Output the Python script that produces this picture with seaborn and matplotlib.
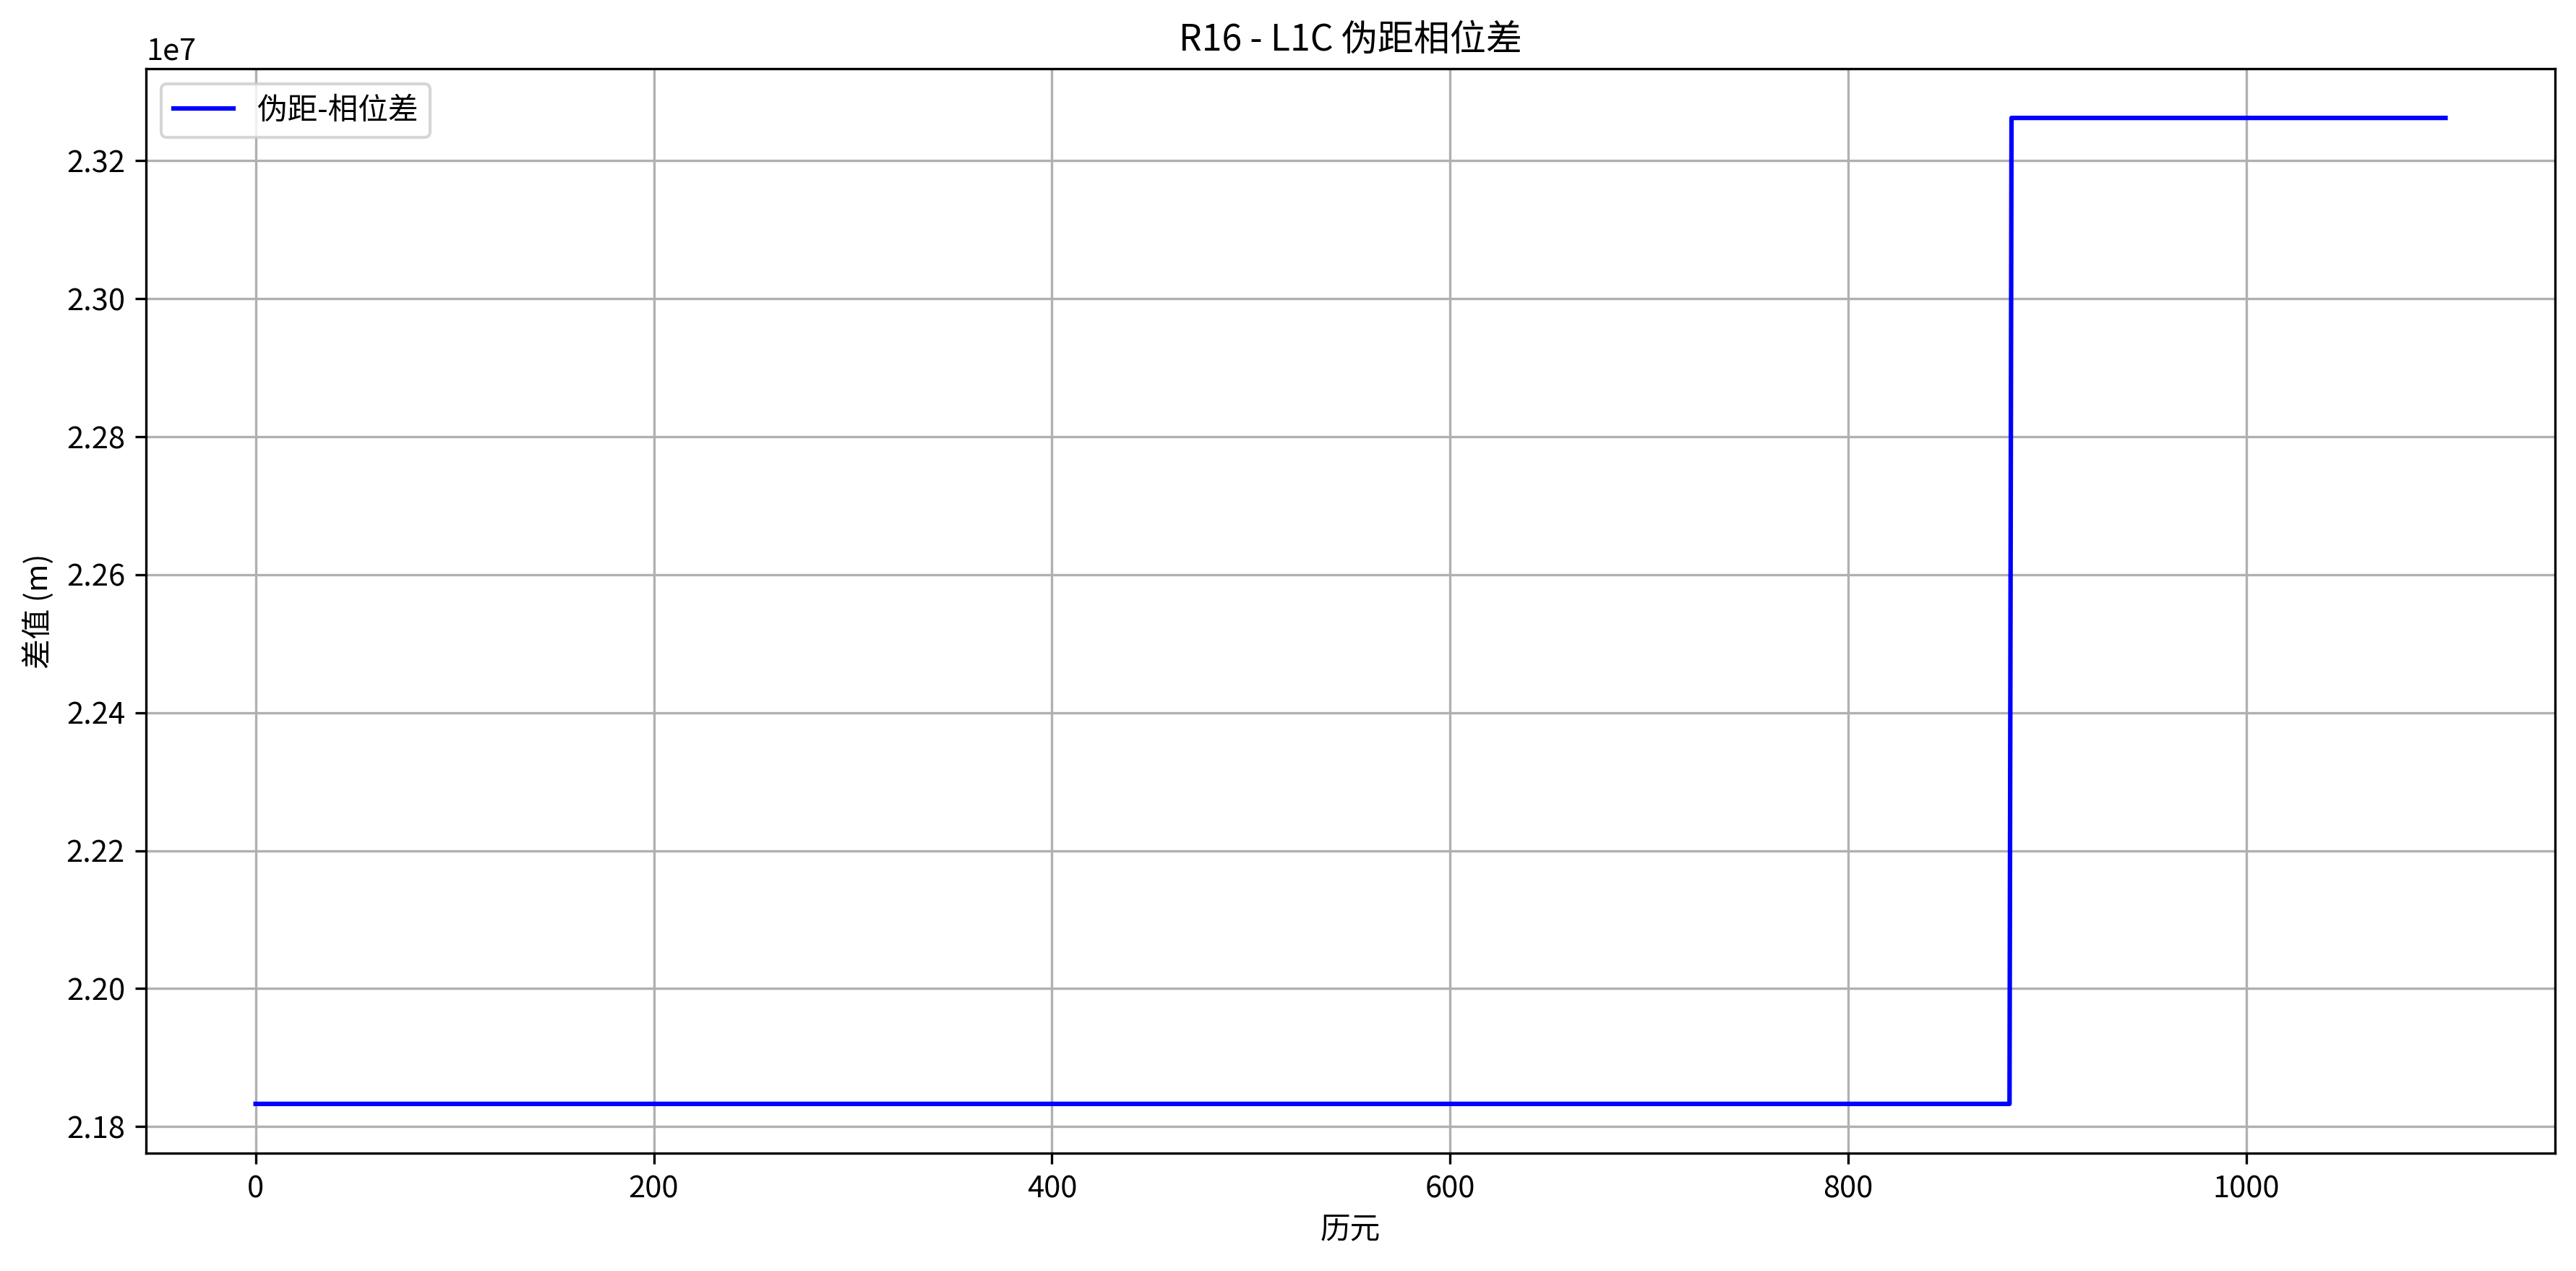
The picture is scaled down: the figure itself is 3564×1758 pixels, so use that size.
import numpy as np
import pandas as pd
import matplotlib
matplotlib.use("Agg")
import matplotlib.pyplot as plt
import seaborn as sns

# 数据：两段常值
level_values = [2.1833e7, 2.3262e7]   # 伪距-相位差 (m)
level_lengths = [882, 219]            # 每段历元数
first_epoch = 0

plt.rcParams['font.family'] = ['Noto Sans CJK SC', 'DejaVu Sans']
plt.rcParams['axes.unicode_minus'] = False

diff = np.repeat(level_values, level_lengths)
epochs = np.arange(first_epoch, first_epoch + len(diff))
df = pd.DataFrame({'epoch': epochs, 'diff': diff})

fig, ax = plt.subplots(figsize=(11.883, 5.86), dpi=300)
sns.lineplot(data=df, x='epoch', y='diff', color='blue', linewidth=1.5,
             label='伪距-相位差', ax=ax)

ax.set_title('R16 - L1C 伪距相位差', fontsize=12)
ax.set_xlabel('历元')
ax.set_ylabel('差值 (m)')
ax.grid(True)
ax.legend(loc='upper left')

fig.subplots_adjust(left=0.0567, right=0.9916, top=0.946, bottom=0.0927)
fig.savefig('out.png', dpi=300)
